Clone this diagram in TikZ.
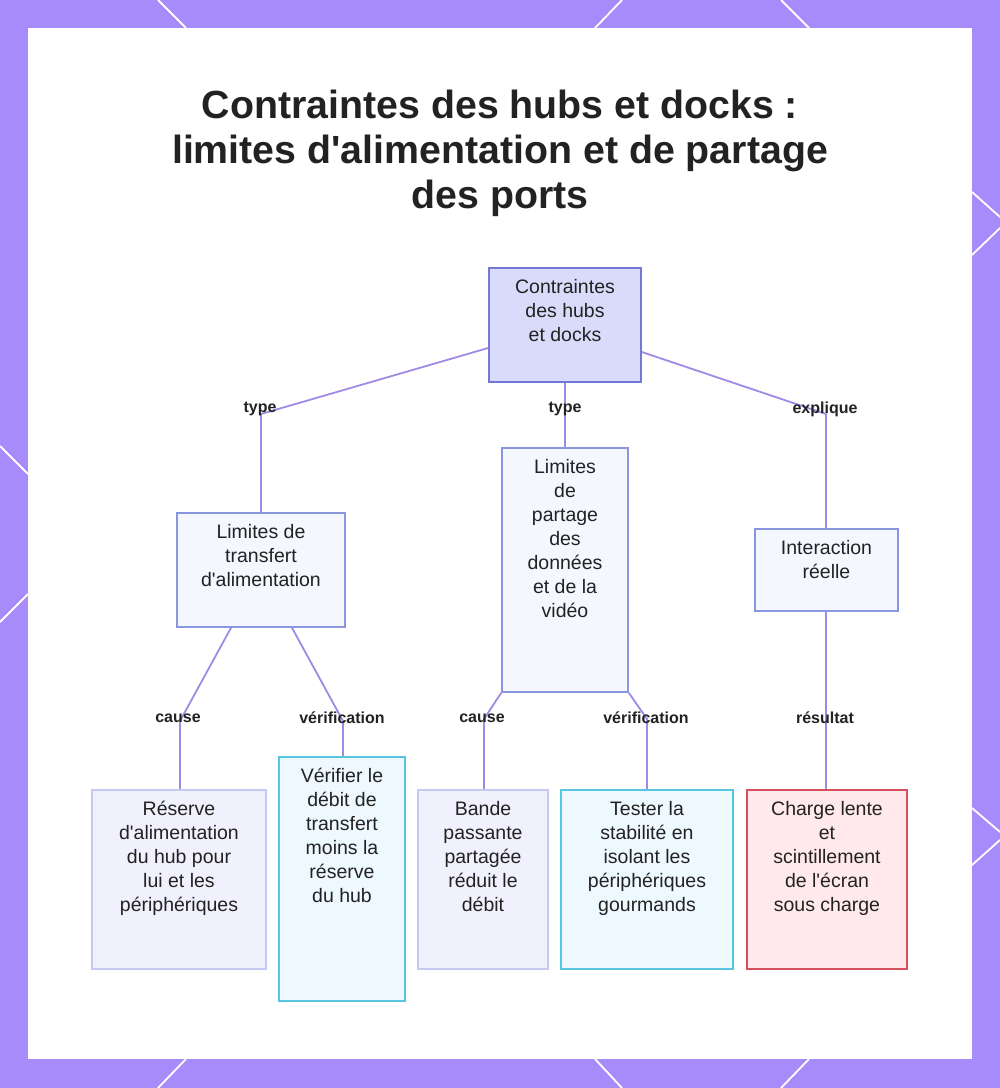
\documentclass[tikz,border=0pt]{standalone}
\usepackage{fontspec}
\setmainfont{Liberation Sans}
\usetikzlibrary{calc}
\definecolor{frame}{HTML}{A78BFA}
\definecolor{edge}{HTML}{A08AE6}
\definecolor{txt}{HTML}{222222}
\definecolor{rootfill}{HTML}{D9DBFA}
\definecolor{rootdraw}{HTML}{7178D6}
\definecolor{midfill}{HTML}{F5F7FF}
\definecolor{middraw}{HTML}{8A96E0}
\definecolor{leaffill}{HTML}{F0F1FD}
\definecolor{leafdraw}{HTML}{C6C9F2}
\definecolor{cyanfill}{HTML}{EEF8FF}
\definecolor{cyandraw}{HTML}{58C6DE}
\definecolor{redfill}{HTML}{FFE9EC}
\definecolor{reddraw}{HTML}{D64F5C}
\newcommand{\ap}{\textquotesingle}
\newcommand{\bxt}[3]{\parbox[c][#2pt][t]{#1pt}{\centering\fontsize{19.5}{24}\selectfont\vspace*{8.7pt}\strut #3}}
\tikzset{
  box/.style={inner sep=0pt, line width=1.6pt, text=txt},
  rootbox/.style={box, fill=rootfill, draw=rootdraw},
  midbox/.style={box, fill=midfill, draw=middraw},
  leafbox/.style={box, fill=leaffill, draw=leafdraw},
  cyanbox/.style={box, fill=cyanfill, draw=cyandraw},
  redbox/.style={box, fill=redfill, draw=reddraw},
  conn/.style={draw=edge, line width=1.8pt},
  lbl/.style={font=\fontsize{16}{18}\selectfont\bfseries, text=txt, inner sep=1pt},
  frameline/.style={draw=white, line width=1.8pt}
}
\begin{document}
\begin{tikzpicture}[x=1pt, y=-1pt]
\useasboundingbox (0,0) rectangle (1000,1088);
% frame
\fill[frame] (0,0) rectangle (1000,1088);
\draw[frameline] (158,0) -- (186,28);
\draw[frameline] (622,0) -- (595,28);
\draw[frameline] (781,0) -- (809,28);
\draw[frameline] (158,1088) -- (186,1059);
\draw[frameline] (622,1088) -- (595,1059);
\draw[frameline] (781,1088) -- (809,1059);
\draw[frameline] (0,446) -- (28,474);
\draw[frameline] (0,622) -- (28,594);
\draw[frameline] (972,192) -- (1000,217);
\draw[frameline] (972,255) -- (1000,228);
\draw[frameline] (972,808) -- (1000,832);
\draw[frameline] (972,865) -- (1000,840);
\fill[white] (28,28) rectangle (972,1059);
% title
\node[align=center, text=txt, font=\fontsize{39.3}{45}\selectfont\bfseries] (title) at (500,153)
  {Contraintes des hubs et docks :\\limites d\ap alimentation et de partage\\des ports};
% nodes
\node[rootbox] (root) at (565,325) {\bxt{152}{114}{Contraintes\\des hubs\\et docks}};
\node[midbox] (A) at (261,570) {\bxt{168}{114}{Limites de\\transfert\\d\ap alimentation}};
\node[midbox] (B) at (565,570) {\bxt{126}{244}{Limites\\de\\partage\\des\\données\\et de la\\vidéo}};
\node[midbox] (C) at (826.5,570) {\bxt{143}{82}{Interaction\\réelle}};
\node[leafbox] (D) at (179,879.5) {\bxt{174}{179}{Réserve\\d\ap alimentation\\du hub pour\\lui et les\\périphériques}};
\node[cyanbox] (E) at (342,879) {\bxt{126}{244}{Vérifier le\\débit de\\transfert\\moins la\\réserve\\du hub}};
\node[leafbox] (F) at (483,879.5) {\bxt{130}{179}{Bande\\passante\\partagée\\réduit le\\débit}};
\node[cyanbox] (G) at (647,879.5) {\bxt{172}{179}{Tester la\\stabilité en\\isolant les\\périphériques\\gourmands}};
\node[redbox] (H) at (827,879.5) {\bxt{160}{179}{Charge lente\\et\\scintillement\\de l\ap écran\\sous charge}};
% bend coordinates
\coordinate (b1) at (261,414);
\coordinate (b3) at (826,414);
\coordinate (b4) at (180,721);
\coordinate (b5) at (343,721);
\coordinate (b6) at (484,719);
\coordinate (b7) at (647,719);
% connectors
\draw[conn] (root.west |- 0,348) -- (b1) -- (A.north -| b1);
\draw[conn] (root.south) -- (B.north);
\draw[conn] (root.east |- 0,352) -- (b3) -- (C.north -| b3);
\draw[conn] (A.south -| 231,0) -- (b4) -- (D.north -| b4);
\draw[conn] (A.south -| 292,0) -- (b5) -- (E.north -| b5);
\draw[conn] (B.south west) -- (b6) -- (F.north -| b6);
\draw[conn] (B.south east) -- (b7) -- (G.north -| b7);
\draw[conn] (C.south -| b3) -- (H.north -| b3);
% labels
\node[lbl] (l1) at (260,409) {type};
\node[lbl] (l2) at (565,409) {type};
\node[lbl] (l3) at (825,409) {explique};
\node[lbl] (l4) at (178,718) {cause};
\node[lbl] (l5) at (342,718) {vérification};
\node[lbl] (l6) at (482,718) {cause};
\node[lbl] (l7) at (646,718) {vérification};
\node[lbl] (l8) at (825,718) {résultat};
\end{tikzpicture}
\end{document}
